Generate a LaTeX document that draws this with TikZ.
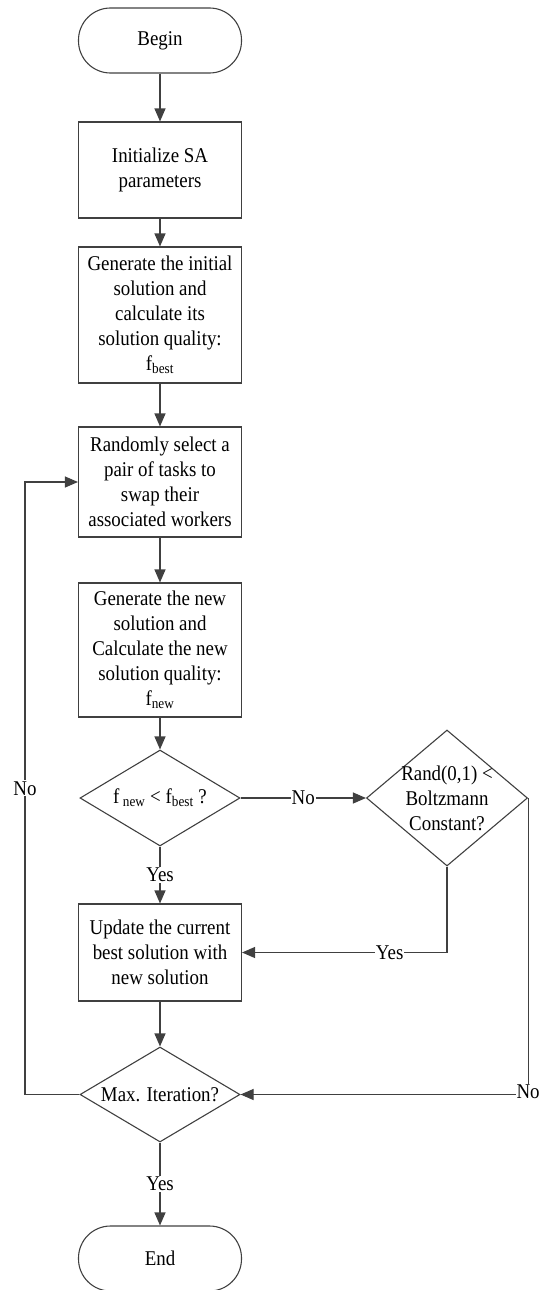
\documentclass[tikz,border=0pt]{standalone}
\usepackage{fontspec}
\setmainfont[FakeStretch=0.9]{Liberation Serif}
\usetikzlibrary{arrows.meta,shapes.geometric}

\tikzset{
  x=1pt, y=-1pt,
  every node/.style={font=\fontsize{21}{25}\selectfont, text=black},
  edge/.style={draw=black!75, line width=1.1pt},
  arr/.style={edge, -{Triangle[length=13pt,width=11pt]}},
  term/.style={draw=black!75, line width=1.1pt, rectangle, rounded corners=32pt,
    minimum width=163pt, minimum height=65pt, inner sep=0pt},
  procbox/.style={draw=black!75, line width=1.1pt, rectangle, align=center,
    minimum width=163pt, inner sep=0pt},
  dec/.style={draw=black!75, line width=1.1pt, diamond, inner sep=0pt},
  txt/.style={align=center, inner sep=0pt},
  lbl/.style={fill=white, inner sep=1pt},
}

\begin{document}
\begin{tikzpicture}
\useasboundingbox (0,0) rectangle (541,1290);

% main column
\node[term] (begin) at (160,40.5) {Begin};
\node[procbox, minimum height=96pt] (init) at (160,170) {Initialize SA\\parameters};
\node[procbox, minimum height=136pt] (gen) at (160,315)
  {Generate the initial\\solution and\\calculate its\\solution quality:\\f\textsubscript{best}};
\node[procbox, minimum height=110pt] (rand) at (160,482)
  {Randomly select a\\pair of tasks to\\swap their\\associated workers};
\node[procbox, minimum height=134pt] (newsol) at (160,650)
  {Generate the new\\solution and\\Calculate the new\\solution quality:\\f\textsubscript{new}};
\node[dec, minimum width=160pt, minimum height=96pt,
  label={[txt]center:f\,\textsubscript{new} < f\textsubscript{best} ?}] (cmp) at (160,798) {};
\node[dec, minimum width=161pt, minimum height=136pt,
  label={[txt]center:Rand(0,1) <\\Boltzmann\\Constant?}] (boltz) at (447,798) {};
\node[procbox, minimum height=97pt] (upd) at (160,952.5)
  {Update the current\\best solution with\\new solution};
\node[dec, minimum width=160pt, minimum height=95pt,
  label={[txt]center:Max. Iteration?}] (maxit) at (160,1094.5) {};
\node[term] (end) at (160,1258.5) {End};

\coordinate (loop) at (25,482);

% connectors
\draw[arr] (begin) -- (init);
\draw[arr] (init) -- (gen);
\draw[arr] (gen) -- (rand);
\draw[arr] (rand) -- (newsol);
\draw[arr] (newsol) -- (cmp);
\draw[arr] (cmp) -- node[lbl] {Yes} (upd);
\draw[arr] (cmp) -- node[lbl] {No} (boltz);
\draw[arr] (boltz.south) |- node[lbl, pos=0.64] {Yes} (upd.east);
\draw[arr] (upd) -- (maxit);
\draw[arr] (boltz.east) |- node[lbl, pos=0.5, yshift=3pt] {No} (maxit.east);
\draw[arr] (maxit.west) -| node[lbl, pos=0.75] {No} (loop) -- (rand.west);
\draw[arr] (maxit) -- node[lbl] {Yes} (end);
\end{tikzpicture}
\end{document}
